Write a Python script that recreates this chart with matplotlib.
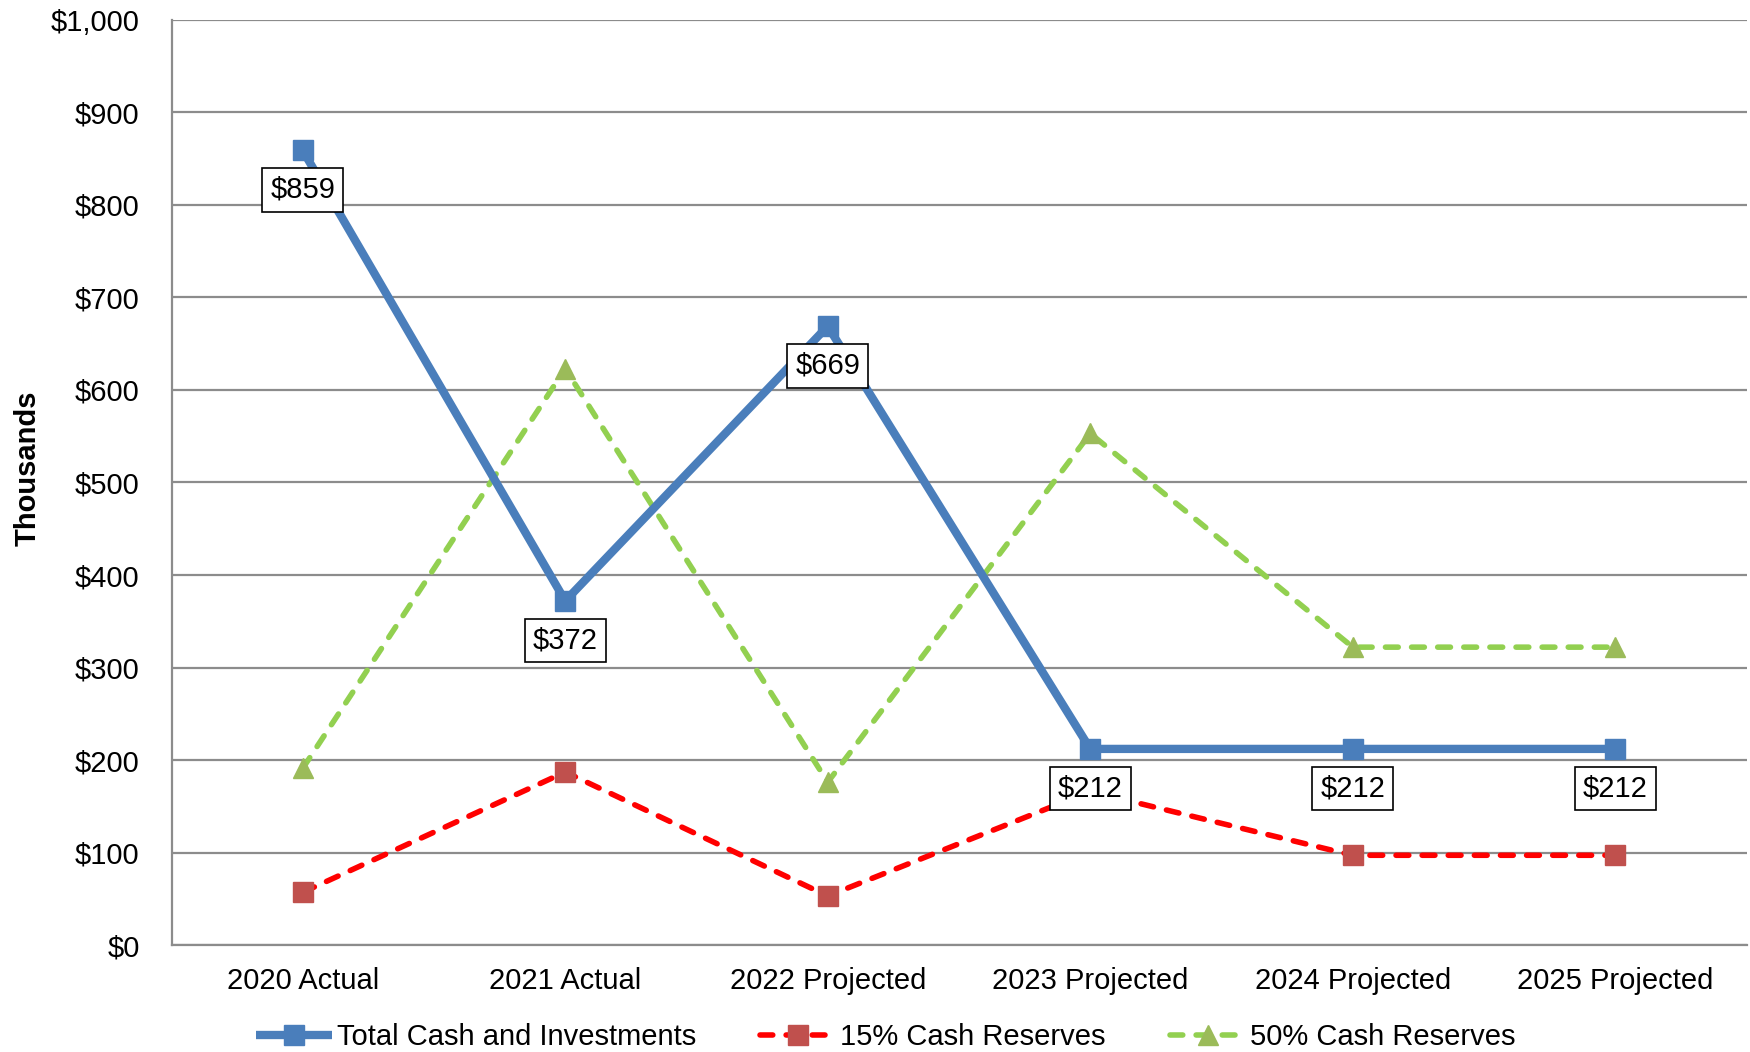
import matplotlib
matplotlib.use("Agg")
import matplotlib.pyplot as plt
from matplotlib.ticker import FuncFormatter, MultipleLocator

plt.rcParams['font.family'] = ['Liberation Sans', 'DejaVu Sans']

categories = ["2020 Actual", "2021 Actual", "2022 Projected",
              "2023 Projected", "2024 Projected", "2025 Projected"]
total_cash = [859, 372, 669, 212, 212, 212]
reserves_15 = [57, 187, 53, 166, 97, 97]
reserves_50 = [191, 623, 176, 553, 322, 322]

FS = 21

fig = plt.figure(figsize=(17.5, 10.52), dpi=100)
ax = fig.add_axes([0.098, 0.1017, 0.900, 0.8793])

x = list(range(len(categories)))

ax.plot(x, reserves_50, color="#92D050", lw=4.0, linestyle=(0, (2.3, 2.4)),
        dash_capstyle="round", marker="^", markersize=15,
        markerfacecolor="#9BBB59", markeredgecolor="#9BBB59",
        label="50% Cash Reserves", zorder=3)
ax.plot(x, reserves_15, color="#FF0000", lw=4.0, linestyle=(0, (2.3, 2.4)),
        dash_capstyle="round", marker="s", markersize=14,
        markerfacecolor="#C0504D", markeredgecolor="#C0504D",
        label="15% Cash Reserves", zorder=4)
ax.plot(x, total_cash, color="#4A7EBB", lw=6.0, solid_capstyle="butt",
        marker="s", markersize=14, markerfacecolor="#4A7EBB",
        markeredgecolor="#4A7EBB", label="Total Cash and Investments", zorder=5)

# value labels beneath each point of the total series
for xi, v in zip(x, total_cash):
    ax.annotate(f"${v:,.0f}", (xi, v), xytext=(0, -28.5), textcoords="offset points",
                ha="center", va="center", fontsize=FS, zorder=6,
                bbox=dict(boxstyle="square,pad=0.27", fc="white", ec="black", lw=1.2))

ax.set_xlim(-0.5, len(categories) - 0.5)
ax.set_ylim(0, 1000)
ax.yaxis.set_major_locator(MultipleLocator(100))
ax.yaxis.set_major_formatter(FuncFormatter(lambda v, p: f"${v:,.0f}"))
ax.set_xticks(x)
ax.set_xticklabels(categories)
ax.tick_params(axis="both", length=0, labelsize=FS, colors="black")
ax.tick_params(axis="y", pad=23)
ax.tick_params(axis="x", pad=15.5)
for lab in ax.get_yticklabels():
    lab.set_horizontalalignment("right")

ax.grid(axis="y", color="#8C8C8C", lw=1.6)
ax.set_axisbelow(True)
for side in ("top", "right"):
    ax.spines[side].set_visible(False)
for side in ("left", "bottom"):
    ax.spines[side].set_color("#8C8C8C")
    ax.spines[side].set_linewidth(1.6)

ax.set_ylabel("Thousands", fontsize=FS, fontweight="bold")
ax.yaxis.set_label_coords(-0.0825, 0.515)

handles, labels = ax.get_legend_handles_labels()
order = [2, 1, 0]
fig.legend([handles[i] for i in order], [labels[i] for i in order],
           loc="center", bbox_to_anchor=(886 / 1750, 1 - 1037 / 1052),
           ncol=3, frameon=False, fontsize=FS, handlelength=2.6,
           handletextpad=0.15, columnspacing=2.2, borderpad=0)

fig.savefig("out.png", dpi=100)
